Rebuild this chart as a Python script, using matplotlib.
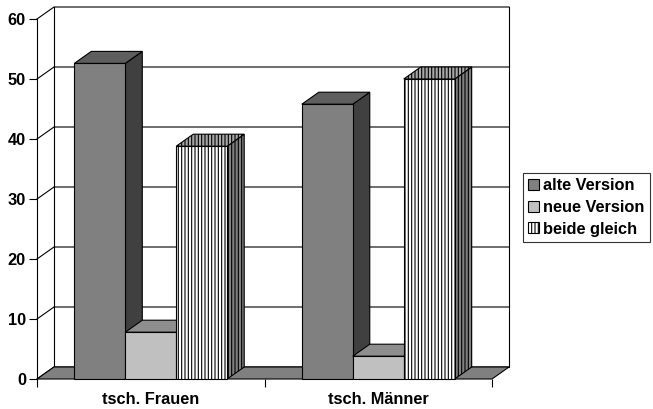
import matplotlib.pyplot as plt
from matplotlib.patches import Polygon, Patch

plt.rcParams['font.family'] = ['Liberation Sans', 'DejaVu Sans']
plt.rcParams['font.weight'] = 'bold'
plt.rcParams['hatch.linewidth'] = 0.8

kategorien = ['tsch. Frauen', 'tsch. Männer']
serien = ['alte Version', 'neue Version', 'beide gleich']
alte = [52.6, 45.8]
neue = [7.8, 3.8]
beide = [38.8, 50.0]
werte = [alte, neue, beide]

# front, top, side colour + hatch per series
stil = [
    ('#808080', '#5e5e5e', '#404040', None),
    ('#c0c0c0', '#8e8e8e', '#707070', None),
    ('#ffffff', '#a8a8a8', '#808080', '|||||'),
]

W, H = 653, 409
fig = plt.figure(figsize=(W / 100, H / 100), dpi=100)
ax = fig.add_axes([37 / W, 30 / H, 455 / W, 360 / H])
ax.set_xlim(-0.5, 1.5)
ax.set_ylim(0, 60)

# depth of the 3d box in data units
dx = 17 / 227.5
dy = 2.0
lw = 0.8
fs = 11.8

# back wall gridlines and left wall diagonals
for v in range(0, 70, 10):
    ax.plot([-0.5, -0.5 + dx, 1.5 + dx], [v, v + dy, v + dy], color='black', lw=lw, clip_on=False, zorder=1)
ax.plot([-0.5 + dx, -0.5 + dx], [dy, 60 + dy], color='black', lw=lw, clip_on=False, zorder=1)
ax.plot([1.5 + dx, 1.5 + dx], [dy, 60 + dy], color='black', lw=lw, clip_on=False, zorder=1)

# floor
ax.add_patch(Polygon([(-0.5, 0), (1.5, 0), (1.5 + dx, dy), (-0.5 + dx, dy)],
                     facecolor='#808080', edgecolor='black', lw=lw, clip_on=False, zorder=2))

breite = 0.224
z = 3
for i in range(len(kategorien)):
    for j in range(len(serien)):
        h = werte[j][i]
        x0 = i + (j - 1) * breite - breite / 2
        x1 = x0 + breite
        front, top, side, hatch = stil[j]
        ax.add_patch(Polygon([(x1, 0), (x1 + dx, dy), (x1 + dx, h + dy), (x1, h)],
                             facecolor=side, edgecolor='black', lw=lw, hatch=hatch, clip_on=False, zorder=z))
        ax.add_patch(Polygon([(x0, h), (x1, h), (x1 + dx, h + dy), (x0 + dx, h + dy)],
                             facecolor=top, edgecolor='black', lw=lw, hatch=hatch, clip_on=False, zorder=z))
        ax.add_patch(Polygon([(x0, 0), (x1, 0), (x1, h), (x0, h)],
                             facecolor=front, edgecolor='black', lw=lw, hatch=hatch, clip_on=False, zorder=z + 1))
        z += 2

for s in ['top', 'right', 'bottom']:
    ax.spines[s].set_visible(False)
ax.spines['left'].set_linewidth(lw)
ax.spines['left'].set_zorder(50)
ax.set_yticks(range(0, 70, 10))
ax.tick_params(axis='y', length=6, width=lw, labelsize=fs, pad=2)
ax.set_xticks([-0.5, 0.5, 1.5])
ax.set_xticklabels([])
ax.set_xticks([0, 1], minor=True)
ax.set_xticklabels(kategorien, minor=True)
ax.tick_params(axis='x', which='major', length=6, width=lw)
ax.tick_params(axis='x', which='minor', length=0, labelsize=fs, pad=9)
ax.patch.set_visible(False)

handles = [Patch(facecolor=stil[j][0], edgecolor='black', hatch=stil[j][3], lw=lw) for j in range(3)]
leg = fig.legend(handles, serien, loc='upper left', bbox_to_anchor=(523 / W, 1 - 173 / H),
                 fontsize=fs, frameon=True, fancybox=False, edgecolor='black',
                 handlelength=0.65, handleheight=0.65, handletextpad=0.3, borderpad=0.3,
                 labelspacing=0.42, borderaxespad=0)
leg.get_frame().set_linewidth(lw)

fig.savefig('out.png', dpi=100)
